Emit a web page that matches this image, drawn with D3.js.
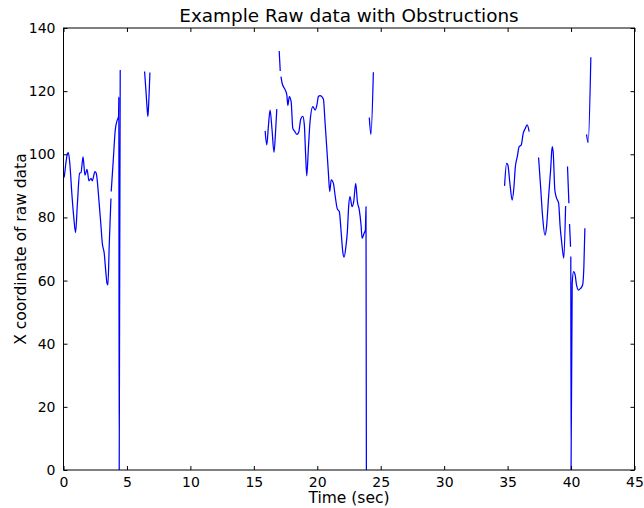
<!DOCTYPE html>
<html>
<head>
<meta charset="utf-8">
<script src="https://cdn.jsdelivr.net/npm/d3@7"></script>
<style>
  html, body { margin: 0; padding: 0; background: #fff; }
  svg { display: block; font-family: "DejaVu Sans", sans-serif; }
</style>
</head>
<body>
<svg id="chart" width="644" height="508"></svg>
<script>
// ---- data (null = obstructed / missing) ----
const timeSec = [
  0.0, 0.06, 0.18, 0.32, 0.38, 0.5, 0.65, 0.81, 0.95, 1.09, 1.27, 1.38, 1.54, 1.69, 1.85, 2.01, 2.17, 2.27, 2.48, 2.58, 2.8, 2.94, 3.06, 3.21, 3.33, 3.43, 3.5, 3.61, 3.74, 3.75,
  3.76, 3.92, 4.08, 4.21, 4.34, 4.36, 4.39, 4.47, 4.5,
  6.39, 6.5, 6.6, 6.65, 6.7, 6.81, 6.85,
  15.89, 16.02, 16.15, 16.28, 16.43, 16.59, 16.71, 16.81, 16.9,
  17.0, 17.08, 17.1,
  17.14, 17.23, 17.47, 17.6, 17.68, 17.8, 17.94, 18.07, 18.2, 18.39, 18.54, 18.7, 18.86, 18.98, 19.08, 19.17, 19.3, 19.43, 19.65, 19.83, 19.96, 20.09, 20.22, 20.48, 20.61, 20.75, 20.87, 20.98, 21.1, 21.27, 21.4, 21.58, 21.74, 21.87, 22.01, 22.11, 22.27, 22.37, 22.48, 22.58, 22.74, 22.87, 23.03, 23.16, 23.31, 23.45, 23.53, 23.69, 23.79, 23.84, 23.87, 23.9,
  24.1, 24.23, 24.42, 24.5,
  34.76, 34.92, 35.02, 35.18, 35.36, 35.5, 35.6, 35.76, 35.91, 36.07, 36.23, 36.39, 36.54, 36.7, 36.8,
  37.44, 37.6, 37.76, 37.94, 38.07, 38.23, 38.39, 38.51, 38.59, 38.72, 38.86, 39.02, 39.14, 39.27, 39.43, 39.57, 39.6,
  39.72, 39.83, 39.85,
  39.88, 39.96, 39.97,
  39.98, 40.0, 40.09, 40.2, 40.32, 40.43, 40.59, 40.75, 40.91, 41.01, 41.09, 41.15,
  41.22, 41.35, 41.56
];
const xCoord = [
  92.5, 93, 97, 100.3, 100.5, 97, 88, 80, 75.2, 84, 94, 94.2, 99.2, 93.4, 95.2, 91.6, 92.4, 91.6, 94.5, 94, 85, 78, 71.8, 68.6, 63, 59.1, 58.6, 72, 86, null,
  88.2, 98, 107.7, 110.5, 112, 118.2, 0, 126.7, null,
  126.2, 120, 114, 112, 115, 125.9, null,
  107.4, 103, 109, 114, 108, 100.6, 107, 114.3, null,
  132.7, 126.4, null,
  124.6, 122.5, 120.4, 118.8, 115.5, 118.3, 116.7, 108.2, 107.4, 106.3, 107, 111.2, 112, 109.3, 100, 93.2, 101.9, 110.3, 115.1, 114, 115.4, 118.3, 118.6, 117.5, 110.3, 101.9, 94.5, 88.2, 91.9, 90.8, 87.1, 82.7, 81.8, 76, 69.1, 67.4, 71.3, 75.5, 83.9, 86.6, 83.4, 85, 90.8, 85, 82.4, 77.6, 73.4, 75, 76, 83.4, 0, null,
  111.6, 106.3, 126, null,
  90, 97.1, 96.6, 90.8, 85.5, 89.7, 95.6, 99.2, 102.4, 102.9, 106.6, 108.2, 109.3, 107.2, null,
  99, 89.7, 80.2, 74.4, 77.1, 86.6, 95, 102.4, 100.8, 88.7, 86.1, 84.5, 77.1, 71.8, 67.1, 83.6, null,
  96.1, 84.5, null,
  77.9, 70.7, null,
  67.6, 0, 59.1, 62.8, 61.8, 58.6, 57, 57.5, 58.6, 64.4, 76.6, null,
  106.3, 103.7, 130.7
];
const xTicks = [0, 5, 10, 15, 20, 25, 30, 35, 40, 45];
const yTicks = [0, 20, 40, 60, 80, 100, 120, 140];
const titleText = "Example Raw data with Obstructions";
const xLabelText = "Time (sec)";
const yLabelText = "X coordinate of raw data";

// ---- layout ----
const mLeft = 63.5, mRight = 634.5, mTop = 28, mBottom = 470;
const svg = d3.select("#chart");

const x = d3.scaleLinear().domain([0, 45]).range([mLeft, mRight]);
const y = d3.scaleLinear().domain([0, 140]).range([mBottom, mTop]);

const points = timeSec.map((t, i) => ({ t, v: xCoord[i] }));

const line = d3.line()
  .defined(d => d.v !== null)
  .x(d => x(d.t))
  .y(d => y(d.v))
  .curve(d3.curveMonotoneX);

svg.append("clipPath").attr("id", "plotclip")
  .append("rect").attr("x", mLeft).attr("y", mTop).attr("width", mRight - mLeft).attr("height", mBottom - mTop);

svg.append("path")
  .datum(points)
  .attr("clip-path", "url(#plotclip)")
  .attr("fill", "none")
  .attr("stroke", "#0000ff")
  .attr("stroke-width", 1.25)
  .attr("stroke-linejoin", "round")
  .attr("d", line);

// axes (matplotlib classic style: inward ticks on all four sides)
const fs = 14;
const labelFs = 15.5;
const bottomAxis = d3.axisBottom(x).tickValues(xTicks).tickSize(-4).tickPadding(7).tickFormat(d3.format("d"));
const topAxis = d3.axisTop(x).tickValues(xTicks).tickSize(-4).tickFormat("");
const leftAxis = d3.axisLeft(y).tickValues(yTicks).tickSize(-4).tickPadding(8).tickFormat(d3.format("d"));
const rightAxis = d3.axisRight(y).tickValues(yTicks).tickSize(-4).tickFormat("");

function style(g) {
  g.select(".domain").remove();
  g.selectAll(".tick line").attr("stroke", "#000").attr("stroke-width", 1);
  g.selectAll(".tick text").attr("fill", "#000").attr("font-size", fs).attr("font-family", "DejaVu Sans, sans-serif");
}
svg.append("g").attr("transform", `translate(0,${mBottom})`).call(bottomAxis).call(style);
svg.append("g").attr("transform", `translate(0,${mTop})`).call(topAxis).call(style);
svg.append("g").attr("transform", `translate(${mLeft},0)`).call(leftAxis).call(style);
svg.append("g").attr("transform", `translate(${mRight},0)`).call(rightAxis).call(style);

svg.append("rect")
  .attr("x", mLeft).attr("y", mTop)
  .attr("width", mRight - mLeft).attr("height", mBottom - mTop)
  .attr("fill", "none").attr("stroke", "#000").attr("stroke-width", 1);

svg.append("text")
  .attr("x", (mLeft + mRight) / 2).attr("y", 22)
  .attr("text-anchor", "middle").attr("font-size", 18.4).attr("fill", "#000")
  .text(titleText);
svg.append("text")
  .attr("x", (mLeft + mRight) / 2).attr("y", 503)
  .attr("text-anchor", "middle").attr("font-size", labelFs).attr("fill", "#000")
  .text(xLabelText);
svg.append("text")
  .attr("transform", `translate(26,${(mTop + mBottom) / 2}) rotate(-90)`)
  .attr("text-anchor", "middle").attr("font-size", labelFs).attr("fill", "#000")
  .text(yLabelText);
</script>
</body>
</html>
